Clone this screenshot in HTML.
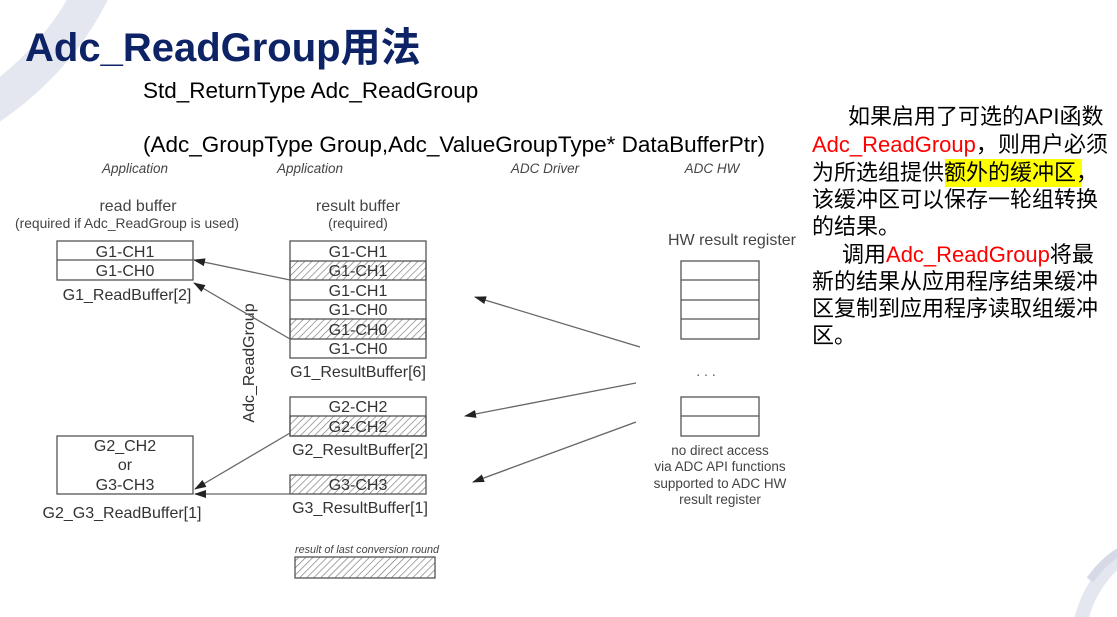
<!DOCTYPE html>
<html><head><meta charset="utf-8"><style>
html,body{margin:0;padding:0;background:#fff;}
svg{display:block;}
.cj{font-family:"Liberation Sans","Noto Sans CJK SC",sans-serif;}
</style></head><body>
<svg width="1117" height="617" viewBox="0 0 1117 617" xmlns="http://www.w3.org/2000/svg">
<defs>
<pattern id="h" width="5" height="5" patternUnits="userSpaceOnUse" patternTransform="rotate(45)">
<rect width="5" height="5" fill="#fff"/><line x1="0" y1="0" x2="0" y2="5" stroke="#777" stroke-width="1.3"/>
</pattern>
<marker id="a" markerWidth="12" markerHeight="8" refX="11" refY="4" orient="auto" markerUnits="userSpaceOnUse">
<path d="M0,0 L12,4 L0,8 Z" fill="#222"/>
</marker>
</defs>
<path d="M95,-15 Q60,60 -15,110" stroke="#e4e7ef" stroke-width="36" fill="none"/>
<path d="M1135,548 Q1090,575 1080,625" stroke="#e4e7ef" stroke-width="14" fill="none"/>
<path d="M1135,545 Q1110,552 1090,580" stroke="#d6dae6" stroke-width="8" fill="none"/>

<text x="25" y="61" class="cj" font-size="40" font-weight="bold" fill="#0d2366">Adc_ReadGroup用法</text>
<text x="143" y="98" class="cj" font-size="22.5" fill="#000">Std_ReturnType Adc_ReadGroup</text>
<text x="143" y="152" class="cj" font-size="22.5" fill="#000">(Adc_GroupType Group,Adc_ValueGroupType* DataBufferPtr)</text>

<g font-family="Liberation Sans,sans-serif" fill="#444">
<g font-style="italic" font-size="13.5" text-anchor="middle">
<text x="135" y="173">Application</text><text x="310" y="173">Application</text>
<text x="545" y="173">ADC Driver</text><text x="712" y="173">ADC HW</text>
</g>
<g font-size="16" text-anchor="middle">
<text x="138" y="211">read buffer</text><text x="358" y="211">result buffer</text>
<text x="732" y="245">HW result register</text>
</g>
<g font-size="13.8" text-anchor="middle">
<text x="127" y="228">(required if Adc_ReadGroup is used)</text><text x="358" y="228">(required)</text>
</g>
<g stroke="#555" stroke-width="1.3" fill="none">
<rect x="57" y="241" width="136" height="39"/><line x1="57" y1="260" x2="193" y2="260"/>
<rect x="290" y="261" width="136" height="19" fill="url(#h)"/>
<rect x="290" y="319" width="136" height="20" fill="url(#h)"/>
<rect x="290" y="241" width="136" height="117"/>
<line x1="290" y1="300" x2="426" y2="300"/>
<rect x="290" y="416" width="136" height="20" fill="url(#h)"/>
<rect x="290" y="397" width="136" height="39"/>
<rect x="290" y="475" width="136" height="19" fill="url(#h)"/>
<rect x="57" y="436" width="136" height="58"/>
<rect x="681" y="261" width="78" height="78"/>
<line x1="681" y1="280" x2="759" y2="280"/><line x1="681" y1="300" x2="759" y2="300"/><line x1="681" y1="319" x2="759" y2="319"/>
<rect x="681" y="397" width="78" height="39"/><line x1="681" y1="416" x2="759" y2="416"/>
<rect x="295" y="557" width="140" height="21" fill="url(#h)"/>
</g>
<g font-size="16" text-anchor="middle" fill="#333">
<text x="125" y="257">G1-CH1</text><text x="125" y="276">G1-CH0</text>
<text x="358" y="257">G1-CH1</text><text x="358" y="276">G1-CH1</text>
<text x="358" y="296">G1-CH1</text><text x="358" y="315">G1-CH0</text>
<text x="358" y="335">G1-CH0</text><text x="358" y="354">G1-CH0</text>
<text x="358" y="412">G2-CH2</text><text x="358" y="432">G2-CH2</text>
<text x="358" y="490">G3-CH3</text>
<text x="125" y="451">G2_CH2</text><text x="125" y="470">or</text><text x="125" y="490">G3-CH3</text>
<text x="127" y="300">G1_ReadBuffer[2]</text>
<text x="358" y="377">G1_ResultBuffer[6]</text>
<text x="360" y="455">G2_ResultBuffer[2]</text>
<text x="360" y="513">G3_ResultBuffer[1]</text>
<text x="122" y="518">G2_G3_ReadBuffer[1]</text>
<text transform="translate(254,363) rotate(-90)">Adc_ReadGroup</text>
</g>
<text x="706" y="376" font-size="14" text-anchor="middle" fill="#555">. . .</text>
<g font-size="13.5" text-anchor="middle">
<text x="720" y="455">no direct access</text><text x="720" y="471">via ADC API functions</text>
<text x="720" y="488">supported to ADC HW</text><text x="720" y="504">result register</text>
</g>
<text x="367" y="553" font-size="10.8" font-style="italic" text-anchor="middle">result of last conversion round</text>
<g stroke="#666" stroke-width="1.3" marker-end="url(#a)">
<line x1="290" y1="280" x2="194" y2="260"/>
<line x1="290" y1="339" x2="194" y2="283"/>
<line x1="290" y1="433" x2="195" y2="489"/>
<line x1="290" y1="494" x2="195" y2="494"/>
<line x1="640" y1="347" x2="475" y2="297"/>
<line x1="636" y1="383" x2="465" y2="416"/>
<line x1="636" y1="422" x2="473" y2="482"/>
</g>
</g>

<rect x="945" y="159" width="137" height="28" fill="#ffff00"/>
<g class="cj" font-size="22" fill="#000">
<text x="848" y="124">如果启用了可选的API函数</text>
<text x="812" y="152"><tspan fill="#ff0000">Adc_ReadGroup</tspan>，则用户必须</text>
<text x="812" y="180">为所选组提供额外的缓冲区，</text>
<text x="812" y="207">该缓冲区可以保存一轮组转换</text>
<text x="812" y="234">的结果。</text>
<text x="842" y="262">调用<tspan fill="#ff0000">Adc_ReadGroup</tspan>将最</text>
<text x="812" y="289">新的结果从应用程序结果缓冲</text>
<text x="812" y="316">区复制到应用程序读取组缓冲</text>
<text x="812" y="343">区。</text>
</g>
</svg>
</body></html>
